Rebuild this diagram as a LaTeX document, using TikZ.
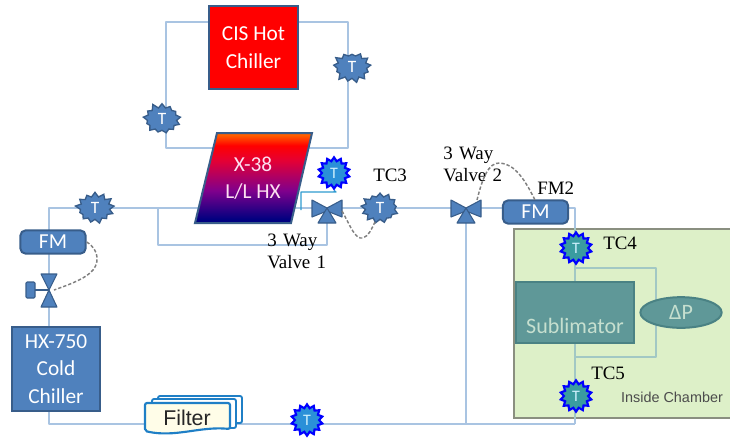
\documentclass[tikz,border=0pt]{standalone}
\usepackage{fontspec}
\setmainfont{Liberation Serif}
\setsansfont{Carlito}
\newfontfamily\arialfont{Liberation Sans}
\usetikzlibrary{shapes.geometric,shapes.symbols}
\definecolor{pipe}{HTML}{A9C4E2}
\definecolor{pipein}{HTML}{A2C8C4}
\definecolor{bluefill}{HTML}{4F81BD}
\definecolor{blueedge}{HTML}{385D8A}
\definecolor{chamberfill}{HTML}{DDF0C8}
\definecolor{chamberedge}{HTML}{8A8F80}
\definecolor{tealfill}{HTML}{5F9898}
\definecolor{tealedge}{HTML}{4A8284}
\definecolor{tealtext}{HTML}{C6DFCF}
\definecolor{filteredge}{HTML}{1F7FC6}
\definecolor{filterfill}{HTML}{FFFDE8}
\definecolor{cyanline}{HTML}{2E9BD0}
\definecolor{starbright}{HTML}{2A90D8}
\definecolor{starteal}{HTML}{3A9CA0}
\pgfdeclareverticalshading{hxshade}{100bp}{
  rgb(0bp)=(0,0,0.5);
  rgb(27bp)=(0,0,0.5);
  rgb(43bp)=(0.5,0,0.55);
  rgb(60bp)=(0.9,0,0.2);
  rgb(68bp)=(1,0,0);
  rgb(74bp)=(1,0.38,0);
  rgb(100bp)=(1,0.38,0)}
\pgfdeclarelayer{chamberlayer}
\pgfdeclarelayer{pipelayer}
\pgfsetlayers{chamberlayer,pipelayer,main}
\tikzset{
  x=0.75pt,y=-0.75pt,
  pipeline/.style={draw=pipe,line width=1.5pt,line join=round},
  pipeinner/.style={draw=pipein,line width=1.5pt,line join=round},
  signal/.style={draw=gray,dashed,line width=1.1pt,dash pattern=on 2.5pt off 1.5pt},
  blockbox/.style={draw=blueedge,line width=1.5pt,fill=bluefill,text=white,font=\sffamily\fontsize{16}{20.5}\selectfont,align=center,inner sep=0pt},
  fmbox/.style={blockbox,rounded corners=4pt,minimum width=49pt,minimum height=17.5pt},
  tcdark/.style={starburst,starburst points=13,starburst point height=4pt,draw=blueedge,line width=1pt,fill=bluefill,text=white,font=\sffamily\fontsize{13}{13}\selectfont,inner sep=0pt,minimum width=30pt,minimum height=25pt},
  tcbright/.style={star,star points=14,star point ratio=1.3,draw=blue,line width=1.6pt,fill=starbright,text=white!80!cyan,font=\sffamily\fontsize{12}{12}\selectfont,inner sep=0pt,minimum size=23.5pt},
  tcchamber/.style={tcbright,fill=starteal},
  label/.style={font=\fontsize{14.2}{16.5}\selectfont,inner sep=0pt},
  valveshape/.style={draw=blueedge,line width=0.8pt,fill=bluefill,line join=round},
  threeway/.pic={
    \path[valveshape] (-15,-9) -- (0,-1) -- (15,-9) -- (15,8) -- (0,2) -- (-15,8) -- cycle;
    \path[valveshape] (0,-1) -- (9,14) -- (-9,14) -- cycle;
  },
  twoway/.pic={
    \path[valveshape] (-8,-16) -- (8,-16) -- (0,0) -- (8,17) -- (-8,17) -- (0,0) -- cycle;
    \path[draw=blueedge,line width=1.2pt] (0,0) -- (-14,0);
    \path[valveshape,rounded corners=0.8pt,line width=0.8pt] (-23,-8) rectangle (-14,8);
  }
}
\begin{document}
\begin{tikzpicture}
\useasboundingbox (0,0) rectangle (730,440);
% chamber
\begin{pgfonlayer}{chamberlayer}
\node[draw=chamberedge,line width=1.5pt,fill=chamberfill,minimum width=217*0.75pt,minimum height=189*0.75pt,inner sep=0pt,anchor=north west] (chamber) at (513,228) {};
\end{pgfonlayer}
% blocks
\node[blockbox,fill=red,minimum width=66.5pt,minimum height=62pt,font=\sffamily\fontsize{16}{21}\selectfont] (hot) at (253.5,47.5) {CIS Hot\\Chiller};
\shade[shading=hxshade,draw=blueedge,line width=1.5pt] (217,133) -- (312,133) -- (291,223) -- (195,223) -- cycle;
\node[text=white!88!magenta,font=\sffamily\fontsize{16}{20}\selectfont,align=center,inner sep=0pt] (hx) at (253,178) {X-38\\L/L HX};
\node[fmbox] (fm1) at (53,242) {FM};
\node[fmbox] (fm2) at (535.5,212) {FM};
\node[blockbox,minimum width=66pt,minimum height=63pt] (cold) at (56,369) {HX-750\\Cold\\Chiller};
\node[draw=tealedge,line width=1.5pt,fill=tealfill,minimum width=88.5pt,minimum height=46pt,inner sep=0pt] (subl) at (575,312.5) {};
\node[text=tealtext,font=\sffamily\fontsize{16.5}{18}\selectfont,inner sep=0pt] (subltext) at (575,326) {Sublimator};
\node[ellipse,draw=tealedge,line width=1.5pt,fill=tealfill,text=tealtext,font=\sffamily\fontsize{16.5}{18}\selectfont,minimum width=61pt,minimum height=23pt,inner sep=0pt] (dp) at (681,312.5) {ΔP};
% filter
\path[draw=filteredge,line width=1.4pt,fill=white,rounded corners=1.5pt] (158,396) -- (242,396) -- (242,423) -- (158,423) -- cycle;
\path[draw=filteredge,line width=1.4pt,fill=white,rounded corners=1.5pt] (152,399) -- (236,399) -- (236,428) -- (152,428) -- cycle;
\path[draw=filteredge,line width=1.6pt,fill=filterfill,rounded corners=1.5pt] (145,403) -- (230,403) -- (230,429) .. controls (200,426) and (175,438) .. (145,431) -- cycle;
\node[font=\arialfont\fontsize{16}{18}\selectfont,inner sep=0pt,text=black!85] (filter) at (187,418) {Filter};
% valves
\coordinate (v1) at (327,209);
\coordinate (v2) at (466,209);
\coordinate (v3) at (49,290);
\pic at (v1) {threeway};
\pic at (v2) {threeway};
\pic at (v3) {twoway};
% temperature sensors
\node[tcdark,random starburst=11] (t1) at (162,119) {T};
\node[tcdark,random starburst=23] (t2) at (352,67) {T};
\node[tcdark,random starburst=37] (t3) at (95,208) {T};
\node[tcdark,random starburst=41] (tc3) at (380,208) {T};
\node[tcbright] (t4) at (334,173) {T};
\node[tcbright] (t5) at (307,420) {T};
\node[tcchamber] (tc4) at (576,248) {T};
\node[tcchamber] (tc5) at (576,396) {T};
% labels
\node[label,anchor=west] (l3) at (373,175) {TC3};
\node[label,anchor=west] (l4) at (603,243) {TC4};
\node[label,anchor=west] (l5) at (591,373) {TC5};
\node[label,anchor=west] (lfm2) at (537,188) {FM2};
\node[label,align=left,anchor=north west,text width=60pt] (lv1) at (267,234) {3 Way\\Valve 1};
\node[label,align=left,anchor=north west,text width=60pt] (lv2) at (443,147) {3 Way\\Valve 2};
\node[font=\arialfont\fontsize{10.8}{12}\selectfont,text=black!70,inner sep=0pt] (inside) at (672,397) {Inside Chamber};
% corner points of the pipework
\coordinate (loopa) at (166,22);
\coordinate (loopb) at (348,22);
\coordinate (loopc) at (166,148);
\coordinate (loopd) at (348,148);
\coordinate (ma) at (49,208);
\coordinate (mb) at (205,208);
\coordinate (mc) at (158,208);
\coordinate (md) at (158,245);
\coordinate (me) at (327,245);
\coordinate (mf) at (575,208);
\coordinate (mg) at (575,424);
\coordinate (mh) at (49,424);
\coordinate (mi) at (466,424);
\coordinate (ca) at (301,210);
\coordinate (cb) at (301,192);
\coordinate (cc) at (336,192);
\coordinate (ia) at (575,268);
\coordinate (ib) at (656,268);
\coordinate (ic) at (656,357);
\coordinate (id) at (575,357);
\coordinate (ha) at (291,208);
\coordinate (sa) at (342,211);
\coordinate (sb) at (375,222);
\coordinate (sc) at (477,200);
\coordinate (sd) at (535,200);
\coordinate (se) at (54,290);
% pipes
\begin{pgfonlayer}{pipelayer}
\draw[pipeline] (hot.west |- loopa) -- (loopa) -- (loopc) -- (216,148);
\draw[pipeline] (hot.east |- loopb) -- (loopb) -- (loopd) -- (300,148);
\draw[pipeline] (cold.south -| mh) -- (mh) -- (mg);
\draw[pipeline] (mg) -- (mf) -- (fm2.center |- mf);
\draw[pipeline] (fm2.center |- mf) -- (v2 |- mf);
\draw[pipeline] (v2 |- mf) -- (v1 |- mf);
\draw[pipeline] (v1) -- (me) -- (md) -- (mc);
\draw[pipeline] (v2) -- (mi);
\draw[pipeline] (cold.north -| ma) -- (ma) -- (mb);
\draw[pipeline] (ha) -- (v1 |- ha);
\draw[pipeline,draw=cyanline,line width=1pt] (ca) -- (cb) -- (cc) -- (t4.south);
\draw[pipeinner] (ia) -- (ib) -- (ic) -- (id);
\draw[pipeinner] (mf |- chamber.north) -- (mf |- chamber.south);
\end{pgfonlayer}
% control signals
\draw[signal] (fm1.east) .. controls (100,250) and (100,265) .. (90,273) .. controls (82,280) and (68,285) .. (se);
\draw[signal] (sa) .. controls (350,225) and (355,240) .. (363,238) .. controls (369,236) and (372,228) .. (sb);
\draw[signal] (sc) .. controls (482,180) and (488,162) .. (500,163) .. controls (515,164) and (525,180) .. (sd);
\end{tikzpicture}
\end{document}
